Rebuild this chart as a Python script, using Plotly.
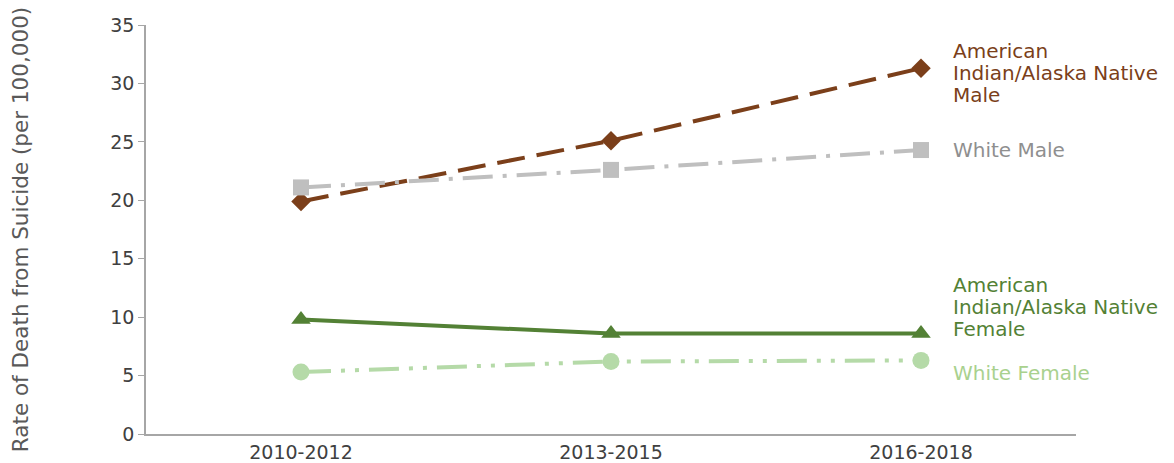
import plotly.graph_objects as go

periods = ["2010-2012", "2013-2015", "2016-2018"]
aian_male = [19.9, 25.1, 31.3]
white_male = [21.1, 22.6, 24.3]
aian_female = [9.8, 8.6, 8.6]
white_female = [5.3, 6.2, 6.3]

series = [
    (["American", "Indian/Alaska Native", "Male"], aian_male, "#7B3F1A", "#7B3F1A", "28px,12px", "diamond", 15),
    (["White Male"], white_male, "#BFBFBF", "#8F8F8F", "30px,10px,4px,10px", "square", 16),
    (["American", "Indian/Alaska Native", "Female"], aian_female, "#538135", "#538135", "solid", "triangle-up", 17),
    (["White Female"], white_female, "#B5DAA8", "#A9D18E", "30px,10px,4px,10px,4px,10px", "circle", 17),
]
label_y = [30.9, 24.3, 10.87, 5.22]

FONT = "DejaVu Sans"
fig = go.Figure()
for lines, vals, col, tcol, dash, sym, size in series:
    fig.add_trace(go.Scatter(
        x=periods, y=vals, mode="lines+markers", name=" ".join(lines),
        line=dict(color=col, width=4, dash=dash),
        marker=dict(symbol=sym, size=size, color=col),
        cliponaxis=False, showlegend=False,
    ))

LINE_H = 22
for (lines, vals, col, tcol, dash, sym, size), ly in zip(series, label_y):
    n = len(lines)
    for i, txt in enumerate(lines):
        fig.add_annotation(
            x=periods[-1], y=ly, text=txt, showarrow=False, xanchor="left", yanchor="middle",
            xshift=30, yshift=((n - 1) / 2 - i) * LINE_H,
            align="left", font=dict(family=FONT, size=20, color=tcol),
        )

# page body has an 8px margin, so size the figure to fit inside the window
fig.update_layout(
    width=1166, height=455,
    margin=dict(l=138, r=98, t=17, b=29, autoexpand=False),
    plot_bgcolor="white", paper_bgcolor="white",
    font=dict(family=FONT, size=19, color="#404040"),
)
fig.update_xaxes(
    type="category", range=[-0.5, 2.5], showline=True, linecolor="#A6A6A6", linewidth=1.5,
    showgrid=False, ticks="", tickfont=dict(size=19, color="#404040"), automargin=False,
    ticklabelstandoff=0,
)
fig.update_yaxes(
    range=[0, 35], dtick=5, showline=True, linecolor="#A6A6A6", linewidth=1.5,
    showgrid=False, zeroline=False, ticks="outside", ticklen=6, tickcolor="#A6A6A6",
    tickfont=dict(size=19, color="#404040"), automargin=False,
    title=dict(text="Rate of Death from Suicide (per 100,000)", font=dict(size=21.5, color="#595959"), standoff=80),
)

fig.write_html("out.html")
